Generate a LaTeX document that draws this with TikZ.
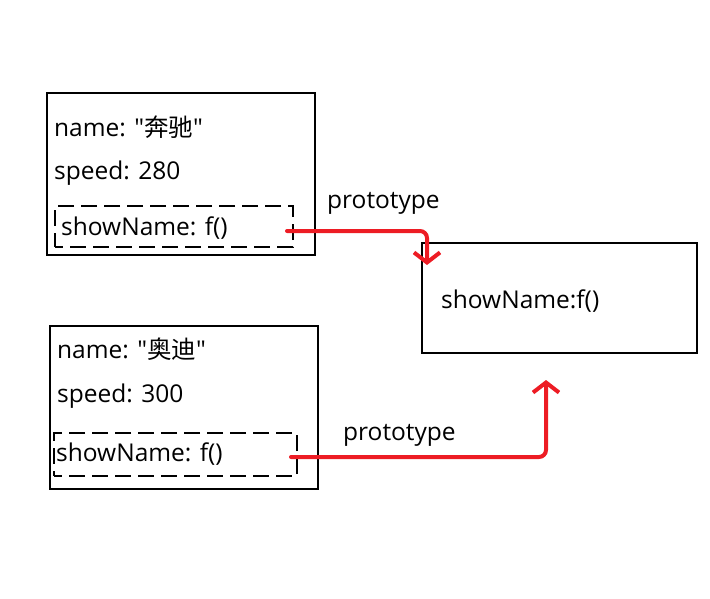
\documentclass[tikz,border=0pt]{standalone}
\usepackage{fontspec}
\setmainfont{Open Sans}[Ligatures=TeXOff]
\newfontfamily\cjk{Noto Sans CJK SC}
\usetikzlibrary{arrows.meta}
\definecolor{linkred}{RGB}{237,28,36}

\tikzset{
  objbox/.style={draw, line width=1.6pt, inner sep=0pt},
  fnbox/.style={draw, line width=1.6pt, dash pattern=on 16pt off 7pt, dash phase=8pt, inner sep=0pt},
  field/.style={anchor=base west, inner sep=0pt, font=\fontsize{24.5}{29}\selectfont},
  protolink/.style={draw=linkred, line width=4pt, line cap=round, line join=round,
    rounded corners=7pt, -{Straight Barb[length=10pt,width=26pt]}},
}

\begin{document}
\begin{tikzpicture}[x=1pt,y=-1pt]
  \useasboundingbox (0,0) rectangle (710,599);

  % first object
  \node[objbox, minimum width=268pt, minimum height=162pt] (benz) at (181,174) {};
  \node[fnbox, minimum width=238pt, minimum height=41pt] (benzfn) at (174,226.5) {};
  \node[field] (benzname) at (54,137) {name: "{\cjk 奔驰}"};
  \node[field] (benzspeed) at (54,179) {speed: 280};
  \node[field] (benzshow) at (61,235) {showName: f()};

  % second object
  \node[objbox, minimum width=268pt, minimum height=163pt] (audi) at (184,407.5) {};
  \node[fnbox, minimum width=243pt, minimum height=43pt] (audifn) at (175.5,454.5) {};
  \node[field] (audiname) at (57,358) {name: "{\cjk 奥迪}"};
  \node[field] (audispeed) at (57,402) {speed: 300};
  \node[field] (audishow) at (56,461) {showName: f()};

  % shared prototype
  \node[objbox, minimum width=275pt, minimum height=110pt] (proto) at (559.5,298) {};
  \node[field] (protoshow) at (441,308) {showName:f()};

  \node[field] (lab1) at (327,208) {prototype};
  \node[field] (lab2) at (343,440) {prototype};

  \coordinate (s1) at (287,231);
  \coordinate (t1) at (427,265);
  \coordinate (s2) at (291,457);
  \coordinate (t2) at (546,380);

  \draw[protolink] (s1) -| (t1);
  \draw[protolink] (s2) -| (t2);
\end{tikzpicture}
\end{document}
